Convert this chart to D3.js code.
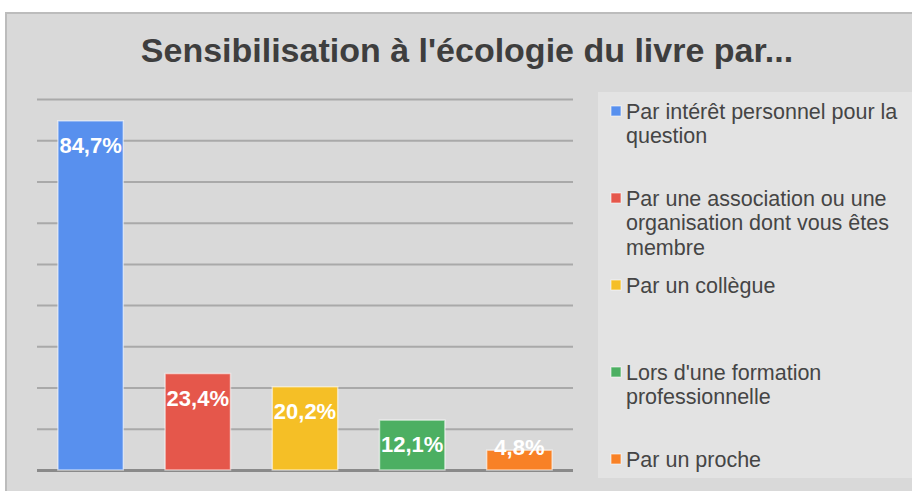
<!DOCTYPE html>
<html lang="fr">
<head>
<meta charset="UTF-8">
<title>Sensibilisation</title>
<script src="https://d3js.org/d3.v7.min.js"></script>
<style>
  body { margin: 0; background: #fff; font-family: "Liberation Sans", Arial, sans-serif; }
  .grid line { stroke: #a9a9a9; stroke-width: 2px; }
  .grid path { display: none; }
</style>
</head>
<body>
<div id="chart"></div>
<script>
var categories = [
  "Par intérêt personnel pour la question",
  "Par une association ou une organisation dont vous êtes membre",
  "Par un collègue",
  "Lors d'une formation professionnelle",
  "Par un proche"
];
var values = [84.7, 23.4, 20.2, 12.1, 4.8];
var colors = ["#5890ee", "#e5574b", "#f5bf26", "#4caf62", "#f88126"];
var yTicks = [0, 10, 20, 30, 40, 50, 60, 70, 80, 90];

var W = 912, H = 491;
var plot = {left: 37, right: 573, top: 99, bottom: 470};

var svg = d3.select("#chart").append("svg")
    .attr("width", W)
    .attr("height", H);

// panel
svg.append("rect")
    .attr("x", 6).attr("y", 13)
    .attr("width", 920).attr("height", 490)
    .attr("fill", "#d9d9d9")
    .attr("stroke", "#bcbcbc")
    .attr("stroke-width", 2);

svg.append("text")
    .attr("x", 467)
    .attr("y", 62)
    .attr("text-anchor", "middle")
    .style("font-size", "34px")
    .style("font-weight", "bold")
    .style("fill", "#3e3e3e")
    .text("Sensibilisation à l'écologie du livre par...");

var x = d3.scaleBand()
    .domain(categories)
    .range([plot.left, plot.right])
    .paddingInner(0.39)
    .paddingOuter(0.195);

var y = d3.scaleLinear()
    .domain([0, 90])
    .range([plot.bottom, plot.top]);

var grid = svg.append("g")
    .attr("class", "grid")
    .attr("transform", "translate(" + plot.left + ",0)")
    .call(d3.axisLeft(y).tickValues(yTicks).tickSize(-(plot.right - plot.left)).tickFormat(""));
grid.selectAll("line").filter(function(d) { return d === 0; })
    .style("stroke", "#8a8a8a").style("stroke-width", "3px");

svg.selectAll(".bar")
    .data(values)
  .enter().append("rect")
    .attr("class", "bar")
    .attr("x", function(d, i) { return x(categories[i]); })
    .attr("y", function(d) { return y(d); })
    .attr("width", x.bandwidth())
    .attr("height", function(d) { return y(0) - y(d); })
    .attr("fill", function(d, i) { return colors[i]; })
    .attr("stroke", "rgba(255,255,255,0.55)")
    .attr("stroke-width", 1.5);

svg.selectAll(".lbl")
    .data(values)
  .enter().append("text")
    .attr("class", "lbl")
    .attr("x", function(d, i) { return x(categories[i]) + x.bandwidth() / 2; })
    .attr("y", function(d) { return Math.min(y(d) + 32, y(0) - 15); })
    .attr("text-anchor", "middle")
    .style("font-size", "22px")
    .style("font-weight", "bold")
    .style("fill", "#fff")
    .text(function(d) { return d.toFixed(1).replace(".", ",") + "%"; });

// legend
svg.append("rect")
    .attr("x", 598).attr("y", 92)
    .attr("width", 320).attr("height", 386)
    .attr("fill", "#e3e3e3");

var legend = svg.selectAll(".legend")
    .data(categories)
  .enter().append("g")
    .attr("class", "legend")
    .attr("transform", function(d, i) { return "translate(611," + (111 + i * 87) + ")"; });

legend.append("rect")
    .attr("x", 0).attr("y", -5)
    .attr("width", 10).attr("height", 10)
    .attr("fill", function(d, i) { return colors[i]; })
    .attr("stroke", "rgba(255,255,255,0.6)")
    .attr("stroke-width", 1);

legend.append("text")
    .attr("x", 15)
    .attr("y", 7.5)
    .style("font-size", "21.5px")
    .style("fill", "#454545")
    .each(function(d) {
      var t = d3.select(this), words = d.split(" "), line = [];
      var ts = t.append("tspan").attr("x", 15).attr("dy", 0);
      words.forEach(function(w) {
        line.push(w);
        ts.text(line.join(" "));
        if (ts.node().getComputedTextLength() > 282 && line.length > 1) {
          line.pop();
          ts.text(line.join(" "));
          line = [w];
          ts = t.append("tspan").attr("x", 15).attr("dy", 24.5).text(w);
        }
      });
    });
</script>
</body>
</html>
